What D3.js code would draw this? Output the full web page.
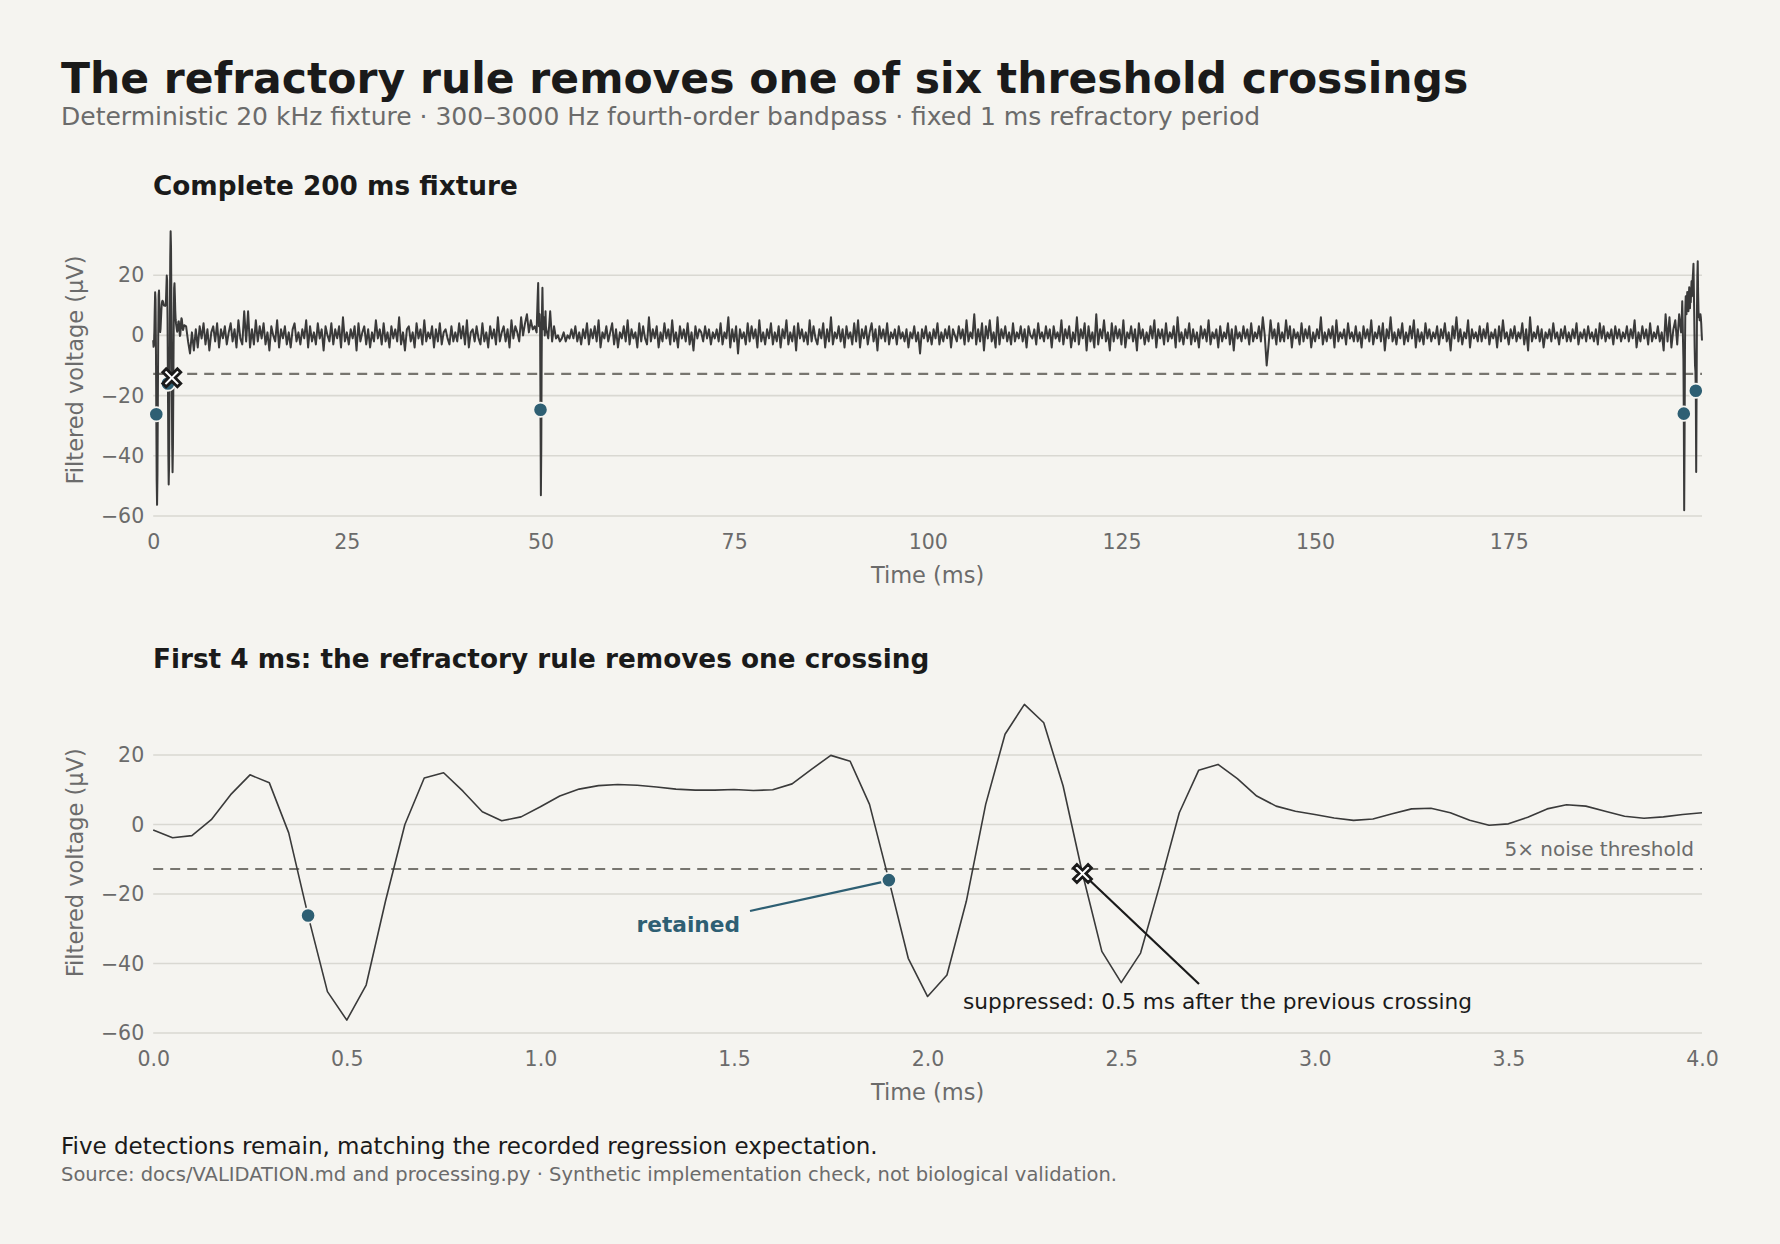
<!DOCTYPE html>
<html>
<head>
<meta charset="utf-8">
<script src="https://cdn.jsdelivr.net/npm/d3@7"></script>
<style>
  html, body { margin: 0; padding: 0; background: #f5f4f0; }
  svg { display: block; font-family: "DejaVu Sans", sans-serif; }
</style>
</head>
<body>
<svg id="chart" width="1780" height="1244"></svg>
<script>
// filtered trace, first 4 ms at 0.05 ms per sample
const firstFourMs = [
  -1.6, -3.8, -3.2, 1.4, 8.6, 14.3, 12.0, -2.4, -26.2, -48.1,
  -56.3, -46.2, -22.0, 0.0, 13.4, 14.9, 9.6, 3.7, 1.1, 2.2,
  5.1, 8.2, 10.2, 11.2, 11.5, 11.3, 10.8, 10.2, 9.9, 9.9,
  10.1, 9.8, 10.0, 11.7, 15.9, 19.9, 18.2, 5.8, -16.0, -38.5,
  -49.5, -43.3, -22.1, 5.8, 26.0, 34.6, 29.3, 11.1, -14.1, -36.5,
  -45.5, -37.0, -17.3, 3.4, 15.6, 17.3, 13.2, 8.2, 5.3, 3.8,
  2.9, 1.9, 1.2, 1.6, 3.1, 4.5, 4.7, 3.4, 1.25, -0.2,
  0.2, 2.1, 4.5, 5.7, 5.3, 3.8, 2.4, 1.8, 2.2, 2.9,
  3.4
];

// background noise 4.25 – 49.5 ms, every 0.25 ms (estimated)
const noiseA = [
  3,-2,-6,1,-5,2,-4,3,-1,4,-3,2,-5,1,3,-2,4,-4,2,-1,
  3,-3,1,4,-2,2,-4,5,-1,-3,8,-2,8,-4,2,-3,5,-2,3,-1,
  4,-3,1,-5,3,0,-2,5,-4,2,-1,3,-3,1,-4,2,4,-2,1,-3,
  2,-1,5,-4,3,-2,1,-3,4,-1,2,-5,3,0,-2,4,-3,2,-1,3,
  -4,6,-2,1,-3,2,-1,3,-5,4,-2,1,3,-3,2,-4,1,-2,5,-1,
  2,-3,4,-2,1,-4,3,-1,2,-2,6,-3,1,-5,2,3,-2,1,-4,4,
  -1,2,-3,5,-2,1,-1,3,-4,2,-2,4,-3,1,2,-1,-3,3,-2,1,
  -2,4,-1,3,-3,5,-4,1,2,-2,3,-1,-3,4,-2,1,-4,3,-1,2,
  -3,6,-2,1,3,-2,2,-4,5,-1,3,1,-2,6,0,4,7,1,5,2,
  3,1
];

// spike near 50 ms, 49.55 – 50.70 ms every 0.05 ms
const spikeAt50 = [
  6, 10, 14, 17.4, 9, 3, 5, 7, 2, -24.7,
  -53.1, -38, -8, 9, 15.8, 8, 2, 4, 6, 3,
  0, 2, 8, 3
];

// background noise 50.75 – 197.25 ms, every 0.25 ms (estimated)
const noiseB = [
  2,-1,8,-2,3,-1,0,-2,-1,1,-2,0,-1,2,-1,3,-2,1,-3,2,
  -1,4,-3,2,-1,3,-2,5,-4,1,-1,3,-2,1,4,-3,2,-4,1,-1,
  3,-2,5,-3,2,-1,1,-4,4,-2,3,-1,-3,6,-2,2,-1,3,-4,1,
  -2,4,-1,2,-3,5,-2,1,-4,3,-1,2,-2,4,-3,1,-5,3,-1,2,
  1,-2,3,-1,2,-3,1,-1,2,-2,4,-3,1,-1,6,-4,2,-2,3,-6,
  2,-1,1,-3,4,-2,3,-1,2,-4,5,-2,1,-3,2,-1,4,-3,1,-2,
  3,-4,2,-1,5,-3,1,-2,3,-5,4,-1,2,-2,1,-3,5,-2,3,-1,
  -3,2,-1,4,-4,2,-2,6,-3,1,-1,3,-2,2,-4,3,-1,1,-3,4,
  -2,5,-4,2,-1,3,-3,1,4,-2,2,-5,3,-1,2,-2,4,-3,1,-1,
  2,-3,3,-1,1,-2,2,-4,1,-1,3,-2,1,-6,2,-1,3,-2,1,-3,
  2,-1,4,-3,1,-2,2,-1,3,-4,2,0,-2,3,-1,2,-3,5,-2,1,
  -1,7,-3,2,-2,4,-5,3,-1,5,-2,1,-4,6,-3,2,-1,3,-2,1,
  -3,4,-2,1,-1,3,-2,2,-4,3,0,-1,2,-3,4,-1,1,-2,3,-1,
  2,-4,3,-1,1,-2,5,-3,2,-1,3,-4,1,-2,6,-3,2,-1,4,-5,
  3,-2,1,-4,7,-3,2,-1,5,-2,1,-5,4,-2,3,-1,2,-3,5,-4,
  1,-1,3,-2,2,-5,4,-1,2,-3,1,-2,3,-1,5,-4,2,-1,2,-3,
  4,-2,1,-1,3,-4,6,-2,1,-3,2,-1,4,-3,2,-2,1,-4,3,-1,
  2,-2,5,-3,1,-1,2,-4,3,-2,1,-1,4,-3,2,-5,3,-1,1,-2,
  3,-1,2,-3,4,-2,1,-1,3,-2,6,0,-10,-3,5,-1,2,-3,4,-2,
  1,-2,5,-1,3,-4,2,-1,1,-3,4,-2,2,-1,3,-4,1,-2,2,-1,
  6,-3,1,-2,2,-1,3,-4,5,-2,1,-1,2,-3,4,-1,1,-2,3,-2,
  1,-4,3,-1,2,-2,5,-3,1,-1,3,-2,4,-5,2,-1,6,-2,1,-3,
  2,-1,4,-3,1,-2,3,-1,5,-4,2,-2,1,-3,4,-1,2,-2,1,-1,
  3,-3,2,-1,4,-2,1,-5,3,-1,6,-2,2,-3,1,-1,5,-4,2,-1,
  1,-2,3,-2,2,-1,4,-3,1,-1,2,-4,3,-2,5,-1,1,-3,2,-1,
  3,-2,1,-1,4,-3,2,-5,6,-2,1,-1,3,-2,2,-4,1,-1,2,-2,
  4,-1,1,-3,2,-1,3,-2,1,-2,2,-1,4,-3,1,-1,2,-2,3,-1,
  1,-2,2,-3,4,-1,3,-2,1,-1,2,-3,3,-1,2,-2,1,-1,3,-2,
  2,-1,5,-4,1,-2,3,-1,2,-3,4,-2,1,-1,3,-2,1,-5,7,-2,
  6,-4,2,5,-3,7,1
];

// closing burst 197.30 – 199.95 ms every 0.05 ms
const endBurst = [
  3, 7, 11.3, 6, -2, -8, -26, -58.1, -35, -5,
  9, 13, 10, 7, 12, 14.4, 9, 11, 8, 13,
  16, 12, 9, 14, 11, 15, 18, 13, 16, 19,
  21, 23.8, 15, 6, -4, -10, -12, -18.4, -45.4, -20,
  8, 20, 24.6, 14, 8, 6, 7, 5, 6, 7,
  6, 4, 1, -1.7
];

const segments = [
  { start: 0, step: 0.05, values: firstFourMs },
  { start: 4.25, step: 0.25, values: noiseA },
  { start: 49.55, step: 0.05, values: spikeAt50 },
  { start: 50.75, step: 0.25, values: noiseB },
  { start: 197.30, step: 0.05, values: endBurst }
];

const threshold = -12.8;
const retainedT = [0.4, 1.9, 50.0, 197.6, 199.15];
const retainedV = [-26.2, -16.0, -24.7, -26.0, -18.4];
const suppressedT = [2.4];
const suppressedV = [-14.1];

const yTicks = [-60, -40, -20, 0, 20];
const fullTicks = [0, 25, 50, 75, 100, 125, 150, 175];
const zoomTicks = [0, 0.5, 1, 1.5, 2, 2.5, 3, 3.5, 4];

const teal = "#2e5f73";
const ink = "#1a1a1a";
const grey = "#6b6b6b";
const bg = "#f5f4f0";

function toPoints(segs) {
  const pts = [];
  segs.forEach(s => s.values.forEach((v, i) => pts.push({ t: s.start + i * s.step, v })));
  return pts;
}

const fullPts = toPoints(segments);
const zoomPts = toPoints([segments[0]]);

const svg = d3.select("#chart");
svg.append("rect").attr("width", 1780).attr("height", 1244).attr("fill", bg);

svg.append("text").attr("x", 61).attr("y", 93)
  .attr("font-size", 42.5).attr("font-weight", "bold").attr("fill", ink)
  .text("The refractory rule removes one of six threshold crossings");
svg.append("text").attr("x", 61).attr("y", 125)
  .attr("font-size", 25).attr("fill", grey)
  .text("Deterministic 20 kHz fixture · 300–3000 Hz fourth-order bandpass · fixed 1 ms refractory period");

function drawPanel(opt) {
  const x = d3.scaleLinear().domain(opt.xDomain).range([153.2, 1702]);
  const y = d3.scaleLinear().domain([-60, opt.yTop]).range([opt.bottom, opt.top]);
  const g = svg.append("g");

  g.append("text").attr("x", 153).attr("y", opt.titleY)
    .attr("font-size", 26.3).attr("font-weight", "bold").attr("fill", ink)
    .text(opt.title);

  // grid
  g.append("g").selectAll("line").data(yTicks).join("line")
    .attr("x1", x.range()[0]).attr("x2", x.range()[1])
    .attr("y1", d => y(d)).attr("y2", d => y(d))
    .attr("stroke", "#d9d8d2").attr("stroke-width", 1.6);

  const yAxis = g.append("g").attr("transform", `translate(${x.range()[0] - 9},0)`)
    .call(d3.axisLeft(y).tickValues(yTicks).tickSize(0).tickPadding(0));
  yAxis.select(".domain").remove();
  yAxis.selectAll("text").attr("font-size", 20.5).attr("fill", grey)
    .attr("font-family", "DejaVu Sans");

  const xAxis = g.append("g").attr("transform", `translate(0,${opt.bottom + 14.5})`)
    .call(d3.axisBottom(x).tickValues(opt.xTicks).tickSize(0).tickPadding(0).tickFormat(opt.fmt));
  xAxis.select(".domain").remove();
  xAxis.selectAll("text").attr("font-size", 20.5).attr("fill", grey)
    .attr("font-family", "DejaVu Sans").attr("dy", "0.9em");

  g.append("text").attr("x", (x.range()[0] + x.range()[1]) / 2).attr("y", opt.bottom + 67)
    .attr("text-anchor", "middle").attr("font-size", 22.5).attr("fill", grey)
    .text("Time (ms)");
  const cy = (opt.top + opt.bottom) / 2;
  g.append("text").attr("transform", `translate(83,${cy}) rotate(-90)`)
    .attr("text-anchor", "middle").attr("font-size", 22.5).attr("fill", grey)
    .text("Filtered voltage (µV)");

  // threshold
  g.append("line").attr("x1", x.range()[0]).attr("x2", x.range()[1])
    .attr("y1", y(threshold)).attr("y2", y(threshold))
    .attr("stroke", "#77756f").attr("stroke-width", 2.2).attr("stroke-dasharray", "10,7");

  const line = d3.line().x(d => x(d.t)).y(d => y(d.v));
  g.append("path").datum(opt.points).attr("d", line)
    .attr("fill", "none").attr("stroke", "#3a3a3a").attr("stroke-width", opt.lw)
    .attr("stroke-linejoin", "round");

  opt.x = x; opt.y = y; opt.g = g;
  return opt;
}

// filled X marker with dark outline
const xs = 9, xw = 3.4;
const xPath = `M${-xs},${-xs + xw}L${-xs + xw},${-xs}L0,${-xw}L${xs - xw},${-xs}L${xs},${-xs + xw}L${xw},0` +
  `L${xs},${xs - xw}L${xs - xw},${xs}L0,${xw}L${-xs + xw},${xs}L${-xs},${xs - xw}L${-xw},0Z`;

function drawMarkers(p, rT, rV, sT, sV) {
  p.g.append("g").selectAll("circle").data(rT).join("circle")
    .attr("cx", d => p.x(d)).attr("cy", (d, i) => p.y(rV[i]))
    .attr("r", 7.2).attr("fill", teal).attr("stroke", bg).attr("stroke-width", 1.8);
  p.g.append("g").selectAll("path").data(sT).join("path")
    .attr("transform", (d, i) => `translate(${p.x(d)},${p.y(sV[i])})`)
    .attr("d", xPath).attr("fill", "#ffffff").attr("stroke", ink).attr("stroke-width", 2.8)
    .attr("stroke-linejoin", "miter");
}

const fullPanel = drawPanel({
  title: "Complete 200 ms fixture", titleY: 195,
  xDomain: [0, 199.95], xTicks: fullTicks, fmt: d3.format("d"),
  top: 224, bottom: 516, yTop: 37, points: fullPts, lw: 2.0
});
drawMarkers(fullPanel, retainedT, retainedV, suppressedT, suppressedV);

const zoomPanel = drawPanel({
  title: "First 4 ms: the refractory rule removes one crossing", titleY: 668,
  xDomain: [0, 4], xTicks: zoomTicks, fmt: d3.format(".1f"),
  top: 692.5, bottom: 1033, yTop: 38, points: zoomPts, lw: 1.6
});

zoomPanel.g.append("text").attr("x", 1694).attr("y", zoomPanel.y(threshold) - 13)
  .attr("text-anchor", "end").attr("font-size", 20).attr("fill", grey)
  .text("5× noise threshold");

// annotation leaders
zoomPanel.g.append("line")
  .attr("x1", 750).attr("y1", 911)
  .attr("x2", zoomPanel.x(1.9) - 7).attr("y2", zoomPanel.y(-16) + 2)
  .attr("stroke", teal).attr("stroke-width", 2.2);
zoomPanel.g.append("text").attr("x", 740).attr("y", 932).attr("text-anchor", "end")
  .attr("font-size", 21.7).attr("font-weight", "bold").attr("fill", teal)
  .text("retained");

zoomPanel.g.append("line")
  .attr("x1", 1199).attr("y1", 984)
  .attr("x2", zoomPanel.x(2.4)).attr("y2", zoomPanel.y(-14.1))
  .attr("stroke", ink).attr("stroke-width", 2.2);
zoomPanel.g.append("text").attr("x", 963).attr("y", 1009)
  .attr("font-size", 21.7).attr("fill", ink)
  .text("suppressed: 0.5 ms after the previous crossing");

const inZoom = retainedT.map((t, i) => i).filter(i => retainedT[i] <= 4);
drawMarkers(zoomPanel, inZoom.map(i => retainedT[i]), inZoom.map(i => retainedV[i]), suppressedT, suppressedV);

svg.append("text").attr("x", 61).attr("y", 1154)
  .attr("font-size", 23).attr("fill", ink)
  .text("Five detections remain, matching the recorded regression expectation.");
svg.append("text").attr("x", 61).attr("y", 1181)
  .attr("font-size", 19.5).attr("fill", grey)
  .text("Source: docs/VALIDATION.md and processing.py · Synthetic implementation check, not biological validation.");
</script>
</body>
</html>
